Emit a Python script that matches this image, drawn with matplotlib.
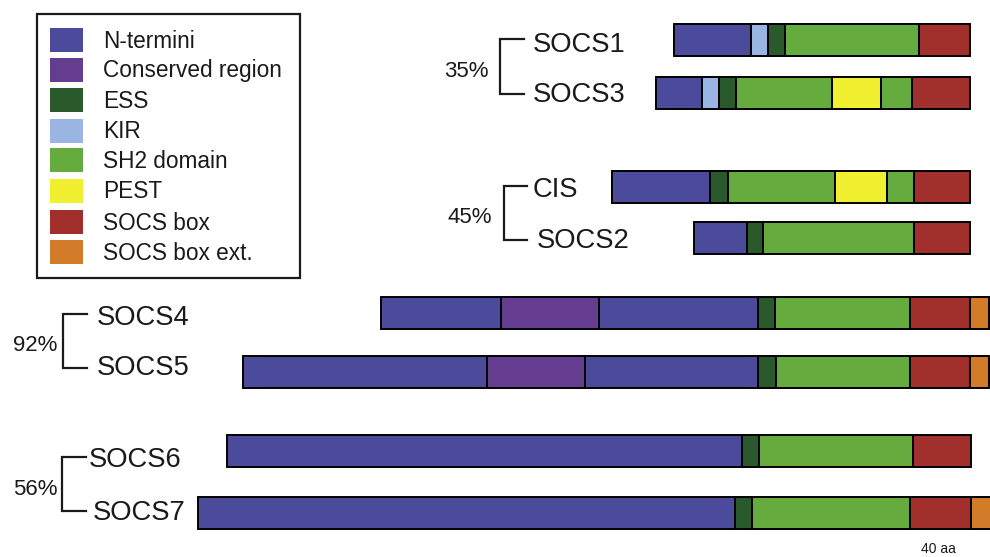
import matplotlib.pyplot as plt
from matplotlib.patches import Rectangle

plt.rcParams["font.family"] = ["Liberation Sans", "DejaVu Sans"]

# domain colours and legend labels
domain_keys = ["N", "CR", "ESS", "KIR", "SH2", "PEST", "BOX", "EXT"]
domain_labels = ["N-termini", "Conserved region", "ESS", "KIR", "SH2 domain",
                 "PEST", "SOCS box", "SOCS box ext."]
domain_colors = ["#4b4a9b", "#653d90", "#2a5a2c", "#9bb5e2", "#66ab3d",
                 "#f0ef30", "#a12f2b", "#d27b29"]

# proteins, segment boundaries (drawing units) and the domain of each segment
proteins = ["SOCS1", "SOCS3", "CIS", "SOCS2", "SOCS4", "SOCS5", "SOCS6", "SOCS7"]
bounds = {
    "SOCS1": [674, 751, 768, 785, 919, 970],
    "SOCS3": [656, 702, 719, 736, 832, 881, 912, 970],
    "CIS":   [612, 710, 728, 835, 887, 914, 970],
    "SOCS2": [694, 747, 763, 914, 970],
    "SOCS4": [381, 501, 599, 758, 775, 910, 970, 989],
    "SOCS5": [243, 487, 585, 758, 776, 910, 970, 989],
    "SOCS6": [227, 742, 759, 913, 971],
    "SOCS7": [198, 735, 752, 910, 971, 992],
}
domains = {
    "SOCS1": ["N", "KIR", "ESS", "SH2", "BOX"],
    "SOCS3": ["N", "KIR", "ESS", "SH2", "PEST", "SH2", "BOX"],
    "CIS":   ["N", "ESS", "SH2", "PEST", "SH2", "BOX"],
    "SOCS2": ["N", "ESS", "SH2", "BOX"],
    "SOCS4": ["N", "CR", "N", "ESS", "SH2", "BOX", "EXT"],
    "SOCS5": ["N", "CR", "N", "ESS", "SH2", "BOX", "EXT"],
    "SOCS6": ["N", "ESS", "SH2", "BOX"],
    "SOCS7": ["N", "ESS", "SH2", "BOX", "EXT"],
}

# identity between pairs
pairs = [("SOCS1", "SOCS3"), ("CIS", "SOCS2"), ("SOCS4", "SOCS5"), ("SOCS6", "SOCS7")]
identity = ["35%", "45%", "92%", "56%"]

# layout
bar_y = [39.5, 92.5, 187, 238, 313, 371.5, 451, 512.5]
bar_h = 32
name_pos = [(533, 52), (533, 102), (533, 197), (537, 248),
            (97, 325), (97, 375), (89, 467), (93, 520)]
brackets = [(500, 39, 94, 524), (504, 186, 240, 527),
            (63, 314, 368, 87), (62, 457, 511, 86)]
pct_pos = [(444, 77), (447, 223), (13, 351), (13, 495)]

color_of = dict(zip(domain_keys, domain_colors))
ink = "#1a1a1a"

fig = plt.figure(figsize=(9.9, 5.57), dpi=100)
ax = fig.add_axes([0, 0, 1, 1])
ax.set_xlim(0, 990)
ax.set_ylim(557, 0)
ax.axis("off")

for i, p in enumerate(proteins):
    b = bounds[p]
    lefts = b[:-1]
    widths = [b[k + 1] - b[k] for k in range(len(b) - 1)]
    cols = [color_of[d] for d in domains[p]]
    ax.barh(bar_y[i], widths, left=lefts, height=bar_h, color=cols,
            edgecolor="black", linewidth=1.4)
    ax.text(name_pos[i][0], name_pos[i][1], p, fontsize=19.7, color=ink,
            ha="left", va="baseline")

for (x, y0, y1, x1), (px, py), txt in zip(brackets, pct_pos, identity):
    ax.plot([x1, x, x, x1], [y0, y0, y1, y1], color=ink, lw=1.6,
            solid_joinstyle="miter")
    ax.text(px, py, txt, fontsize=16, color=ink, ha="left", va="baseline")

# legend box
ax.add_patch(Rectangle((37, 14), 263, 264, fill=False, edgecolor=ink, lw=1.6))
legend_y = [40, 69.5, 100, 130.5, 160, 190.5, 221.5, 252]
for yy, lab, col in zip(legend_y, domain_labels, domain_colors):
    ax.add_patch(Rectangle((50, yy - 12), 33, 24, facecolor=col, edgecolor="none"))
    ax.text(103, yy + 8, lab, fontsize=16.3, color=ink, ha="left", va="baseline")

ax.text(938, 553, "40 aa", fontsize=10, color=ink, ha="center", va="baseline")

fig.savefig("out.png", dpi=100)
